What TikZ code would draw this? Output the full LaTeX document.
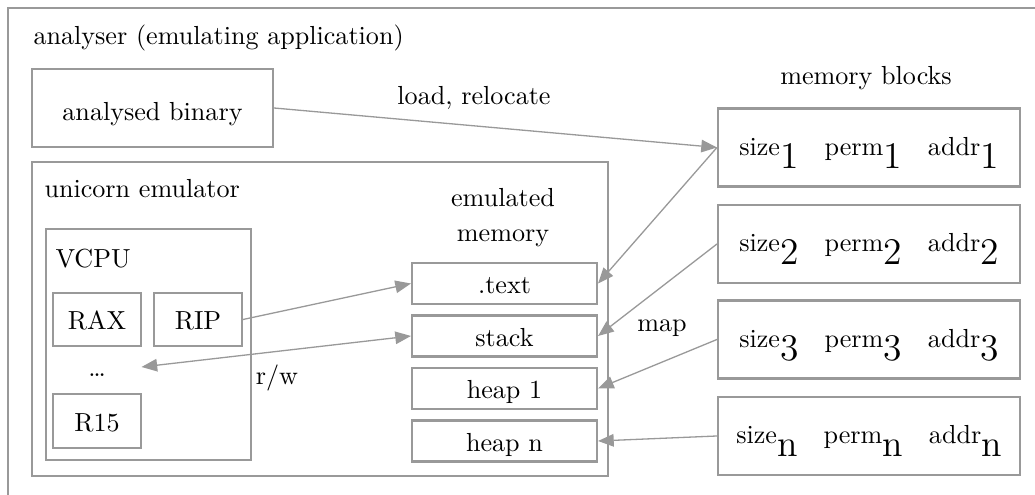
\documentclass[tikz,border=0pt]{standalone}
\usetikzlibrary{arrows.meta}
\definecolor{lg}{RGB}{153,153,153}
\newcommand\lowsub[1]{\raisebox{-5pt}{\Large #1}}
\begin{document}
\begin{tikzpicture}[x=0.383pt,y=-0.383pt,
  >={Triangle[length=6pt,width=4.8pt]},
  box/.style 2 args={draw=lg,line width=0.8pt,inner sep=0pt,
    minimum width=#1*0.383pt,minimum height=#2*0.383pt,
    text height=8pt,text depth=0pt},
  mbox/.style={box={302}{78},text height=10.8pt,text depth=5pt},
  conn/.style={draw=lg,line width=0.5pt,->},
  lbl/.style={inner sep=0pt,anchor=base},
  ]
\clip (0,0) rectangle (1035,495);
\draw[lg,line width=0.8pt] (8,8) rectangle (1050,510);
\node[lbl,anchor=base west] (tan) at (33,45) {analyser (emulating application)};
\node[box={241}{78},text height=9.8pt] (bin) at (152.5,108) {analysed binary};
\node[box={576}{314}] (uni) at (320,319) {};
\node[lbl,anchor=base west] (tuni) at (44,198) {unicorn emulator};
\node[box={205}{231}] (vcpu) at (148.5,344.5) {};
\node[lbl,anchor=base west] (tvcpu) at (55,268) {VCPU};
\node[box={88}{53}] (rax) at (97,319.5) {RAX};
\node[box={88}{53}] (rip) at (198,319.5) {RIP};
\node[box={88}{54}] (r15) at (97,421) {R15};
\node[inner sep=0pt,minimum width=33.7pt,text height=7pt,text depth=0pt] (dots) at (97,367) {\ldots};
\node[lbl] (tem1) at (503,207) {emulated};
\node[lbl] (tem2) at (503,242) {memory};
\node[box={185}{41}] (text) at (504.5,283.5) {.text};
\node[box={185}{41}] (stack) at (504.5,336) {stack};
\node[box={185}{41}] (heap1) at (504.5,388.5) {heap 1};
\node[box={185}{41}] (heapn) at (504.5,441) {heap n};
\node[lbl] (tmb) at (866,85) {memory blocks};
\node[mbox] (mb1) at (869,147.5) {size\lowsub{1}\quad perm\lowsub{1}\quad addr\lowsub{1}};
\node[mbox] (mb2) at (869,244) {size\lowsub{2}\quad perm\lowsub{2}\quad addr\lowsub{2}};
\node[mbox] (mb3) at (869,339.5) {size\lowsub{3}\quad perm\lowsub{3}\quad addr\lowsub{3}};
\node[mbox] (mb4) at (869,436) {size\lowsub{n}\quad perm\lowsub{n}\quad addr\lowsub{n}};
\node[lbl] (tload) at (474,105) {load, relocate};
\node[lbl] (tmap) at (662,332) {map};
\node[lbl] (trw) at (277,385) {r/w};
\draw[conn] (bin.east) -- (mb1.west);
\draw[conn] (mb1.west) -- (text.east);
\draw[conn] (mb2.west) -- (stack.east);
\draw[conn] (mb3.west) -- (heap1.east);
\draw[conn] (mb4.west) -- (heapn.east);
\draw[conn] (rip.east) -- (text.west);
\draw[conn,<->] (stack.west) -- (dots.east);
\end{tikzpicture}
\end{document}
